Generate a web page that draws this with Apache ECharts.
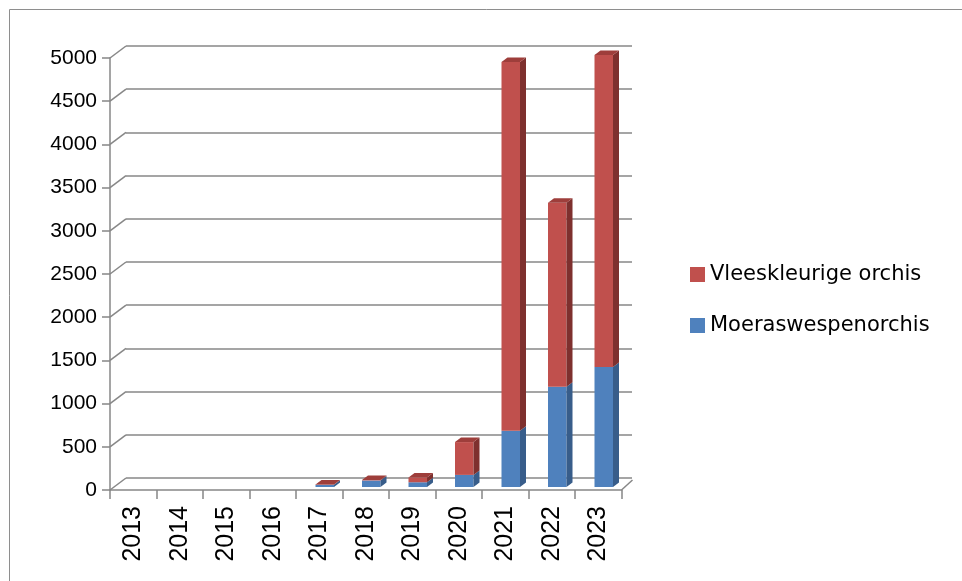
<!DOCTYPE html>
<html><head><meta charset="utf-8">
<script src="https://cdn.jsdelivr.net/npm/echarts@6.0.0/dist/echarts.min.js"></script>
<style>html,body{margin:0;padding:0;background:#fff}#c{width:962px;height:581px}</style>
</head><body><div id="c"></div>
<script>
// ---- data ----
const years = ['2013','2014','2015','2016','2017','2018','2019','2020','2021','2022','2023'];
const moeraswespenorchis = [0, 0, 0, 0, 25, 75, 55, 140, 650, 1160, 1390];
const vleeskleurigeOrchis = [0, 0, 0, 0, 5, 5, 55, 380, 4270, 2130, 3610];
const yTicks = [0, 500, 1000, 1500, 2000, 2500, 3000, 3500, 4000, 4500, 5000];

// ---- style constants ----
const GRID = '#878787';
const DX = 16, DY = -12;           // back-wall offset
const BAR_W = 18.5, BAR_SHIFT = 5.5, BAR_DY = -3, SIDE_DX = 6, SIDE_DY = -4.5;
const AXIS_FONT = 'Liberation Sans, Arial, sans-serif';
const LEG_FONT = 'DejaVu Sans, sans-serif';

const blueData = years.map((y, i) => [i, 0, moeraswespenorchis[i], vleeskleurigeOrchis[i] > 0 ? 0 : 1]);
const redData = years.map((y, i) => [i, moeraswespenorchis[i], moeraswespenorchis[i] + vleeskleurigeOrchis[i], 1]);

function bar3d(front, side, top) {
  return function (params, api) {
    const i = api.value(0), lo = api.value(1), hi = api.value(2), isTop = api.value(3);
    if (!(hi - lo > 0)) return null;
    const b = api.coord([i, lo]), t = api.coord([i, hi]);
    const xl = b[0] + BAR_SHIFT - BAR_W / 2, xr = xl + BAR_W;
    const yb = b[1] + BAR_DY, yt = t[1] + BAR_DY;
    const children = [
      { type: 'rect', shape: { x: xl, y: yt, width: BAR_W, height: yb - yt }, style: { fill: front } },
      { type: 'polygon', shape: { points: [[xr, yt], [xr + SIDE_DX, yt + SIDE_DY], [xr + SIDE_DX, yb + SIDE_DY], [xr, yb]] }, style: { fill: side } }
    ];
    if (isTop) {
      children.push({ type: 'polygon', shape: { points: [[xl, yt], [xl + SIDE_DX, yt + SIDE_DY], [xr + SIDE_DX, yt + SIDE_DY], [xr, yt]] }, style: { fill: top } });
    }
    return { type: 'group', children };
  };
}

const chart = echarts.init(document.getElementById('c'), null, { renderer: 'canvas' });
chart.setOption({
  animation: false,
  backgroundColor: '#fff',
  graphic: [{
    type: 'rect', z: -10, silent: true,
    shape: { x: 9.5, y: 9.5, width: 1000, height: 1000 },
    style: { fill: 'none', stroke: '#8e8e8e', lineWidth: 1 }
  }],
  grid: [
    { left: 110, top: 58, width: 511.5, height: 432, outerBoundsMode: 'none', containLabel: false },
    { left: 110 + DX, top: 58 + DY, width: 506, height: 432, outerBoundsMode: 'none', containLabel: false }
  ],
  legend: {
    orient: 'vertical', left: 685, top: 259, icon: 'rect',
    itemWidth: 15, itemHeight: 15, itemGap: 30,
    data: ['Vleeskleurige orchis', 'Moeraswespenorchis'],
    textStyle: { fontFamily: LEG_FONT, fontSize: 21, color: '#000', lineHeight: 21 },
    selectedMode: false
  },
  xAxis: [
    {
      gridIndex: 0, type: 'category', data: years, boundaryGap: true,
      axisLine: { show: true, lineStyle: { color: GRID, width: 1.5 } },
      axisTick: { show: true, length: 9, interval: 0, lineStyle: { color: GRID, width: 1.5 } },
      axisLabel: { rotate: 90, interval: 0, margin: 16, fontFamily: AXIS_FONT, fontSize: 25, color: '#000' },
      splitLine: { show: false }
    },
    {
      gridIndex: 1, type: 'category', data: years, show: false
    }
  ],
  yAxis: [
    {
      gridIndex: 0, type: 'value', min: 0, max: 5000, interval: 500,
      axisLine: { show: true, lineStyle: { color: GRID, width: 1.5 } },
      axisTick: { show: true, length: 8, lineStyle: { color: GRID, width: 1.5 } },
      axisLabel: { margin: 13, fontFamily: AXIS_FONT, fontSize: 21, color: '#000', formatter: v => String(v) },
      splitLine: { show: false }
    },
    {
      gridIndex: 1, type: 'value', min: 0, max: 5000, interval: 500,
      axisLine: { show: false }, axisTick: { show: false }, axisLabel: { show: false },
      splitLine: { show: true, lineStyle: { color: GRID, width: 1.5 } }
    }
  ],
  series: [
    {
      type: 'custom', name: 'wall-connectors', xAxisIndex: 0, yAxisIndex: 0, silent: true,
      data: yTicks.map(v => [0, v]), encode: { x: 0, y: 1 },
      renderItem: function (params, api) {
        const p = api.coord([api.value(0), api.value(1)]);
        const x0 = p[0] - api.size([1, 0])[0] / 2;
        return { type: 'line', shape: { x1: x0, y1: p[1], x2: x0 + DX, y2: p[1] + DY }, style: { stroke: GRID, lineWidth: 1.5 } };
      }
    },
    {
      type: 'custom', name: 'floor-edge', xAxisIndex: 0, yAxisIndex: 0, silent: true,
      data: [[years.length - 1, 0]], encode: { x: 0, y: 1 },
      renderItem: function (params, api) {
        const p = api.coord([api.value(0), api.value(1)]);
        const x0 = p[0] + api.size([1, 0])[0] / 2;
        return { type: 'line', shape: { x1: x0, y1: p[1], x2: x0 + 11, y2: p[1] - 10 }, style: { stroke: GRID, lineWidth: 1.5 } };
      }
    },
    {
      type: 'custom', name: 'Moeraswespenorchis', xAxisIndex: 0, yAxisIndex: 0,
      itemStyle: { color: '#4F81BD' },
      data: blueData, encode: { x: 0, y: [1, 2] },
      renderItem: bar3d('#4F81BD', '#385D8A', '#4372AA')
    },
    {
      type: 'custom', name: 'Vleeskleurige orchis', xAxisIndex: 0, yAxisIndex: 0,
      itemStyle: { color: '#C0504D' },
      data: redData, encode: { x: 0, y: [1, 2] },
      renderItem: bar3d('#C0504D', '#7E302E', '#9E3E3B')
    }
  ]
});
</script>
</body></html>
